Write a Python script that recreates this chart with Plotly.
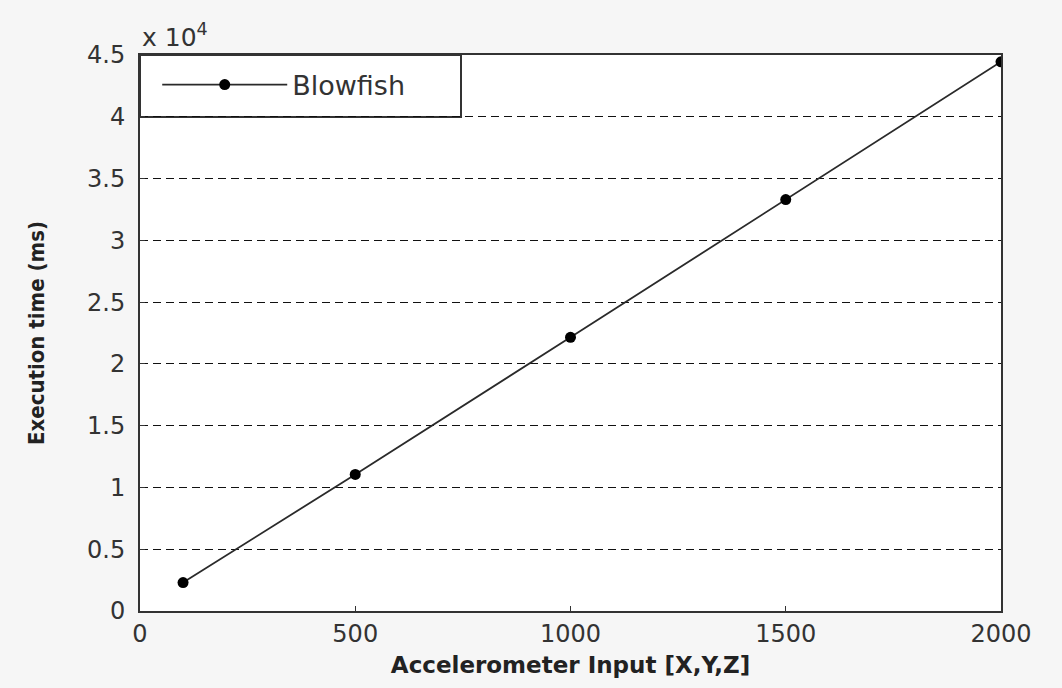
import plotly.graph_objects as go

x_input = [100, 500, 1000, 1500, 2000]
exec_time = [2300, 11050, 22150, 33300, 44450]
series_name = "Blowfish"
y_tickvals = [0, 5000, 10000, 15000, 20000, 25000, 30000, 35000, 40000, 45000]
y_ticktext = ["0", "0.5", "1", "1.5", "2", "2.5", "3", "3.5", "4", "4.5"]
x_tickvals = [0, 500, 1000, 1500, 2000]

fig = go.Figure()
fig.add_trace(go.Scatter(
    x=x_input, y=exec_time, name=series_name, mode="lines+markers",
    line=dict(color="#2a2a2a", width=1.8),
    marker=dict(color="black", size=11),
))

font_fam = "DejaVu Sans, Liberation Sans, Arial, sans-serif"
fig.update_layout(
    width=1062, height=688,
    margin=dict(l=140, r=61, t=55, b=77),
    paper_bgcolor="#f6f6f6",
    plot_bgcolor="white",
    showlegend=True,
    legend=dict(x=0.02, y=0.99, xanchor="left", yanchor="top",
                bgcolor="rgba(0,0,0,0)", borderwidth=0,
                itemwidth=125,
                font=dict(family=font_fam, size=27, color="#333333")),
    xaxis=dict(range=[0, 2000], tickvals=x_tickvals, ticks="inside", ticklen=5,
               tickcolor="#333", showgrid=False, zeroline=False,
               showline=True, linecolor="#333333", linewidth=2, mirror=True,
               tickfont=dict(family=font_fam, size=24, color="#333333"),
               title=dict(text="<b>Accelerometer Input [X,Y,Z]</b>", standoff=10,
                          font=dict(family=font_fam, size=23, color="#222222"))),
    yaxis=dict(range=[0, 45000], tickvals=y_tickvals, ticktext=y_ticktext,
               ticks="inside", ticklen=5, tickcolor="#333",
               showgrid=True, gridcolor="#111111", griddash="8px,5px", gridwidth=1.2,
               zeroline=False, showline=True, linecolor="#333333", linewidth=2,
               mirror=True, ticklabelstandoff=8,
               tickfont=dict(family=font_fam, size=24, color="#333333"),
               title=dict(text="<b>Execution time (ms)</b>", standoff=36,
                          font=dict(family="Liberation Sans Narrow, DejaVu Sans Condensed, sans-serif",
                                    size=22, color="#222222"))),
    shapes=[dict(type="rect", xref="paper", yref="paper",
                 x0=0, x1=321/861, y0=1 - 62/556, y1=1,
                 line=dict(color="#333333", width=2), fillcolor="white", layer="below")],
    annotations=[dict(text="x 10<sup>4</sup>", xref="paper", yref="paper",
                      x=0, y=1, xanchor="left", yanchor="bottom", yshift=1,
                      showarrow=False,
                      font=dict(family=font_fam, size=25, color="#333333"))],
)

fig.write_html("out.html")
